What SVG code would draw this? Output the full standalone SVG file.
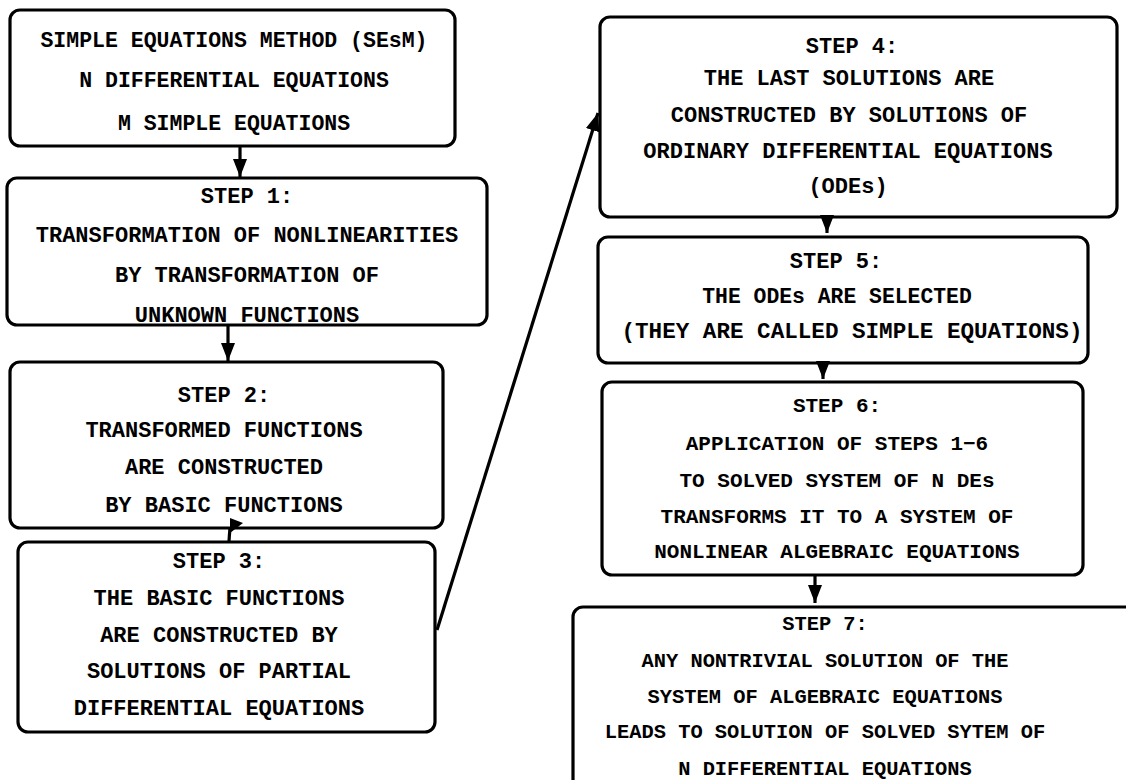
<svg xmlns="http://www.w3.org/2000/svg" width="1126" height="780" viewBox="0 0 1126 780">
<style>
.box{fill:#fff;stroke:#000;stroke-width:3.2}
.t{font-family:"Liberation Mono","Courier New",monospace;font-weight:bold;font-size:22px;text-anchor:middle;fill:#000}
.con{fill:none;stroke:#000;stroke-width:3.2}
</style>
<defs>
<marker id="ah" viewBox="0 0 18 16" refX="18" refY="8" markerWidth="18" markerHeight="16" markerUnits="userSpaceOnUse" orient="auto">
<path d="M0,1 L18,8 L0,15 z" fill="#000"/>
</marker>
</defs>
<rect width="1126" height="780" fill="#fff"/>
<g id="n0">
<rect class="box" x="10" y="10" width="445" height="136" rx="10"/>
<text class="t" x="234" y="47" style="font-size:21.5px">SIMPLE EQUATIONS METHOD (SEsM)</text>
<text class="t" x="234" y="87" style="font-size:21.5px">N DIFFERENTIAL EQUATIONS</text>
<text class="t" x="234" y="130" style="font-size:21.5px">M SIMPLE EQUATIONS</text>
</g>
<g id="n1">
<rect class="box" x="7" y="178" width="480" height="147" rx="10"/>
<text class="t" x="247" y="203">STEP 1:</text>
<text class="t" x="247" y="242">TRANSFORMATION OF NONLINEARITIES</text>
<text class="t" x="247" y="282">BY TRANSFORMATION OF</text>
<text class="t" x="247" y="322">UNKNOWN FUNCTIONS</text>
</g>
<g id="n2">
<rect class="box" x="10" y="362" width="433" height="166" rx="10"/>
<text class="t" x="224" y="402">STEP 2:</text>
<text class="t" x="224" y="437">TRANSFORMED FUNCTIONS</text>
<text class="t" x="224" y="474">ARE CONSTRUCTED</text>
<text class="t" x="224" y="512">BY BASIC FUNCTIONS</text>
</g>
<g id="n3">
<rect class="box" x="18" y="542" width="417" height="190" rx="10"/>
<text class="t" x="219" y="568">STEP 3:</text>
<text class="t" x="219" y="605">THE BASIC FUNCTIONS</text>
<text class="t" x="219" y="642">ARE CONSTRUCTED BY</text>
<text class="t" x="219" y="678">SOLUTIONS OF PARTIAL</text>
<text class="t" x="219" y="715">DIFFERENTIAL EQUATIONS</text>
</g>
<g id="n4">
<rect class="box" x="600" y="17" width="517" height="200" rx="10"/>
<text class="t" x="852" y="53">STEP 4:</text>
<text class="t" x="849" y="85">THE LAST SOLUTIONS ARE</text>
<text class="t" x="849" y="122">CONSTRUCTED BY SOLUTIONS OF</text>
<text class="t" x="848" y="158">ORDINARY DIFFERENTIAL EQUATIONS</text>
<text class="t" x="848" y="193">(ODEs)</text>
</g>
<g id="n5">
<rect class="box" x="598" y="237" width="490" height="126" rx="10"/>
<text class="t" x="836" y="268">STEP 5:</text>
<text class="t" x="837" y="303" style="font-size:21.4px">THE ODEs ARE SELECTED</text>
<text class="t" x="852" y="338" style="font-size:22.6px">(THEY ARE CALLED SIMPLE EQUATIONS)</text>
</g>
<g id="n6">
<rect class="box" x="602" y="382" width="481" height="193" rx="10"/>
<text class="t" x="837" y="412" style="font-size:21px">STEP 6:</text>
<text class="t" x="837" y="450" style="font-size:21px">APPLICATION OF STEPS 1−6</text>
<text class="t" x="837" y="487" style="font-size:21px">TO SOLVED SYSTEM OF N DEs</text>
<text class="t" x="837" y="523" style="font-size:21px">TRANSFORMS IT TO A SYSTEM OF</text>
<text class="t" x="837" y="558" style="font-size:21px">NONLINEAR ALGEBRAIC EQUATIONS</text>
</g>
<g id="n7">
<rect class="box" x="573" y="607" width="580" height="200" rx="10"/>
<text class="t" x="825" y="630" style="font-size:20.4px">STEP 7:</text>
<text class="t" x="825" y="667" style="font-size:20.4px">ANY NONTRIVIAL SOLUTION OF THE</text>
<text class="t" x="825" y="703" style="font-size:20.4px">SYSTEM OF ALGEBRAIC EQUATIONS</text>
<text class="t" x="825" y="738" style="font-size:20.4px">LEADS TO SOLUTION OF SOLVED SYTEM OF</text>
<text class="t" x="825" y="775" style="font-size:20.4px">N DIFFERENTIAL EQUATIONS</text>
</g>
<g id="connectors">
<path class="con" d="M240,146 L240,177" marker-end="url(#ah)"/>
<path class="con" d="M228,325 L228,361" marker-end="url(#ah)"/>
<path class="con" d="M229,541 L230,527"/>
<polygon points="230,518 243,523 230,533" fill="#000"/>
<path class="con" d="M437,630 L598,113" marker-end="url(#ah)"/>
<path class="con" d="M827,215 L827,233" marker-end="url(#ah)"/>
<path class="con" d="M823,363 L823,379" marker-end="url(#ah)"/>
<path class="con" d="M815,575 L815,603" marker-end="url(#ah)"/>
</g>
</svg>
